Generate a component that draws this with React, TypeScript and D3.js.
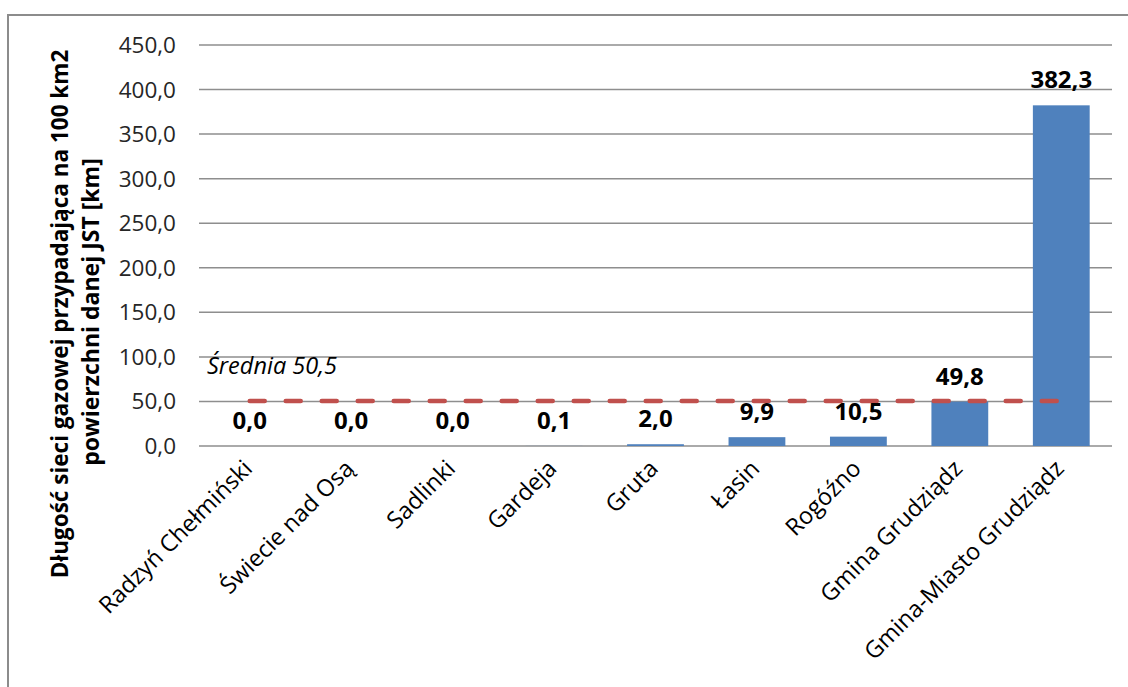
import React from "react";
import * as d3 from "d3";

const categories = [
  "Radzyń Chełmiński",
  "Świecie nad Osą",
  "Sadlinki",
  "Gardeja",
  "Gruta",
  "Łasin",
  "Rogóźno",
  "Gmina Grudziądz",
  "Gmina-Miasto Grudziądz",
];
const values = [0.0, 0.0, 0.0, 0.1, 2.0, 9.9, 10.5, 49.8, 382.3];
const meanValue = 50.5;
const meanLabel = "Średnia 50,5";
const yTicks = [0, 50, 100, 150, 200, 250, 300, 350, 400, 450];
const yTitle1 = "Długość sieci gazowej przypadająca na 100 km2";
const yTitle2 = "powierzchni danej JST [km]";

const W = 1128;
const H = 687;
const FONT = "'Open Sans', 'Noto Sans', sans-serif";
const fmt = (v: number) => v.toFixed(1).replace(".", ",");

export default function App() {
  const x = d3.scaleBand<string>().domain(categories).range([199, 1112]).paddingInner(0.44).paddingOuter(0.22);
  const y = d3.scaleLinear().domain([0, 450]).range([446, 45]);
  const center = (c: string) => (x(c) as number) + x.bandwidth() / 2;

  return (
    <svg width={W} height={H} style={{ position: "absolute", left: 0, top: 0, background: "#fff" }}>
      <rect x={8} y={15} width={W + 50} height={H + 50} fill="#fff" stroke="#8c8c8c" strokeWidth={2} />
      {yTicks.map((t) => (
        <g key={t}>
          <line x1={199} x2={1112} y1={y(t)} y2={y(t)} stroke="#8e8e8e" strokeWidth={1.5} />
          <text x={176} y={y(t) + 8} textAnchor="end" fontFamily={FONT} fontSize={22.5} fill="#262626">
            {fmt(t)}
          </text>
        </g>
      ))}
      {categories.map((c, i) => (
        <rect
          key={c}
          x={x(c)}
          y={y(values[i])}
          width={x.bandwidth()}
          height={y(0) - y(values[i])}
          fill="#4F81BD"
        />
      ))}
      <line
        x1={center(categories[0])}
        x2={center(categories[categories.length - 1])}
        y1={y(meanValue)}
        y2={y(meanValue)}
        stroke="#C0504D"
        strokeWidth={4.5}
        strokeDasharray="15,21"
        strokeLinecap="round"
      />
      <text x={207} y={374} fontFamily={FONT} fontStyle="italic" fontSize={23.5} fill="#000">
        {meanLabel}
      </text>
      {categories.map((c, i) => (
        <text
          key={"v" + c}
          x={center(c)}
          y={y(values[i]) - 17}
          textAnchor="middle"
          fontFamily={FONT}
          fontWeight="bold"
          fontSize={24}
          fill="#000"
        >
          {fmt(values[i])}
        </text>
      ))}
      {categories.map((c) => (
        <text
          key={"c" + c}
          transform={`translate(${center(c) + 4},${470}) rotate(-45)`}
          textAnchor="end"
          fontFamily={FONT}
          fontSize={23.5}
          fill="#000"
        >
          {c}
        </text>
      ))}
      <text
        transform={`translate(68,314) rotate(-90)`}
        textAnchor="middle"
        fontFamily={FONT}
        fontWeight="bold"
        fontSize={22.5}
        fill="#000"
      >
        {yTitle1}
      </text>
      <text
        transform={`translate(99,312) rotate(-90)`}
        textAnchor="middle"
        fontFamily={FONT}
        fontWeight="bold"
        fontSize={23}
        fill="#000"
      >
        {yTitle2}
      </text>
    </svg>
  );
}
